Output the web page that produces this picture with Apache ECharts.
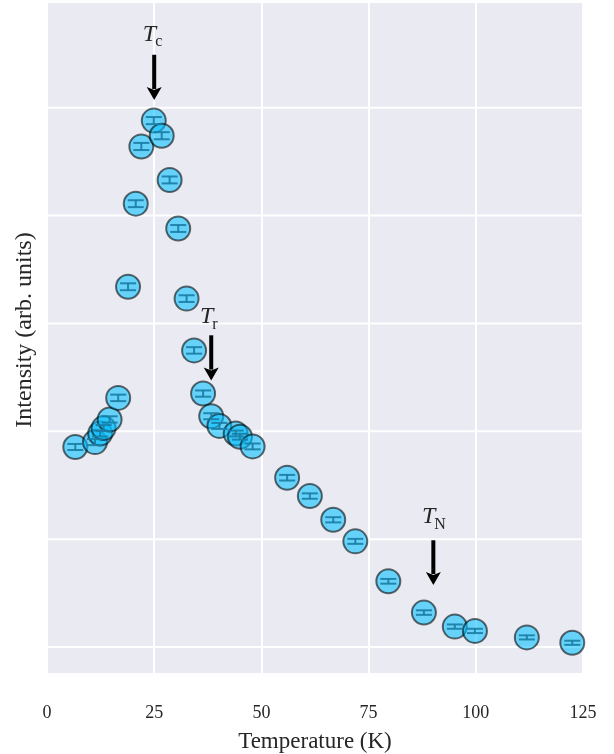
<!DOCTYPE html>
<html>
<head>
<meta charset="utf-8">
<script src="https://cdn.jsdelivr.net/npm/echarts@6/dist/echarts.min.js"></script>
<style>
  html, body { margin: 0; padding: 0; background: #ffffff; }
  #chart { width: 614px; height: 754px; }
</style>
</head>
<body>
<div id="chart"></div>
<script>
// Temperature scan of the peak intensity (arbitrary units)
const temperature = [6.6, 11.2, 12.4, 13.2, 14.6, 16.6, 18.9, 20.7, 22.0, 24.9, 26.75,
  28.6, 30.6, 32.55, 34.3, 36.4, 38.3, 40.2, 44.0, 45.0, 47.95, 56.0, 61.3, 66.75,
  71.9, 79.6, 87.9, 95.1, 99.8, 111.9, 122.5];
const intensity = [1.855, 1.90, 1.98, 2.03, 2.11, 2.31, 3.34, 4.11, 4.64, 4.88, 4.74,
  4.33, 3.88, 3.23, 2.75, 2.35, 2.14, 2.05, 1.98, 1.95, 1.86, 1.57, 1.40, 1.18,
  0.98, 0.61, 0.32, 0.19, 0.15, 0.09, 0.04];
const intensityErr = [0.028, 0.028, 0.028, 0.028, 0.029, 0.030, 0.032, 0.032, 0.033, 0.033, 0.033,
  0.032, 0.032, 0.031, 0.030, 0.029, 0.028, 0.028, 0.027, 0.027, 0.027, 0.026, 0.025, 0.024,
  0.023, 0.022, 0.021, 0.020, 0.020, 0.019, 0.019];

// Horizontal grid levels (arb. units) and x-axis ticks
const yGridLevels = [0, 1, 2, 3, 4, 5];
const xTicks = [0, 25, 50, 75, 100, 125];

// Transition markers: arrow x, arrow tip, arrow tail, label height, subscript
const markerNames = ['c', 'r', 'N'];
const markerX = [25, 38.3, 90.1];
const markerTipY = [5.07, 2.47, 0.575];
const markerTailY = [5.49, 2.89, 0.99];
const markerLabelY = [5.68, 3.06, 1.21];

const serif = "'Liberation Serif', 'DejaVu Serif', serif";
const textColor = '#262626';

const chart = echarts.init(document.getElementById('chart'), null, { renderer: 'canvas' });

const points = temperature.map((t, i) => [t, intensity[i], intensityErr[i]]);
const markers = markerX.map((x, i) => [x, markerTipY[i], markerTailY[i], markerLabelY[i], markerNames[i]]);

const option = {
  animation: false,
  backgroundColor: '#ffffff',
  grid: {
    left: 47, right: 31, top: 3, bottom: 81,
    outerBoundsMode: 'none',
    containLabel: false,
    show: true, backgroundColor: '#EAEAF2', borderWidth: 0
  },
  // vertical axis title
  graphic: [{
    type: 'text',
    x: 25, y: 330,
    rotation: Math.PI / 2,
    style: {
      text: 'Intensity (arb. units)',
      font: '24px ' + serif,
      fill: textColor,
      align: 'center',
      verticalAlign: 'middle'
    }
  }],
  xAxis: {
    type: 'value',
    min: xTicks[0], max: xTicks[xTicks.length - 1], interval: 25,
    name: 'Temperature (K)',
    nameLocation: 'middle', nameGap: 57,
    nameTextStyle: { fontFamily: serif, fontSize: 23, color: textColor },
    axisLine: { show: false }, axisTick: { show: false },
    axisLabel: { fontFamily: serif, fontSize: 18, color: textColor, margin: 31 },
    splitLine: { show: true, lineStyle: { color: '#ffffff', width: 2 } }
  },
  yAxis: {
    type: 'value',
    min: -0.24, max: 5.97,
    axisLine: { show: false }, axisTick: { show: false },
    axisLabel: { show: false },
    splitLine: { show: false }
  },
  series: [
    {
      // horizontal grid lines at integer intensity levels
      type: 'custom',
      data: yGridLevels.map(v => [v]),
      silent: true,
      renderItem: function (params, api) {
        const cs = params.coordSys;
        const y = api.coord([0, api.value(0)])[1];
        return {
          type: 'line',
          shape: { x1: cs.x, y1: y, x2: cs.x + cs.width, y2: y },
          style: { stroke: '#ffffff', lineWidth: 2 }
        };
      },
      encode: { y: 0 },
      z: 1
    },
    {
      type: 'scatter',
      data: points.map(p => [p[0], p[1]]),
      symbol: 'circle',
      symbolSize: 24,
      itemStyle: {
        color: 'rgba(0,191,255,0.70)',
        borderColor: 'rgba(0,0,0,0.72)',
        borderWidth: 2
      },
      z: 3
    },
    {
      // error bars with caps
      type: 'custom',
      data: points,
      renderItem: function (params, api) {
        const x = api.value(0), y = api.value(1), e = api.value(2);
        const top = api.coord([x, y + e]);
        const bot = api.coord([x, y - e]);
        const hw = 8;
        const style = { stroke: 'rgba(25,125,165,0.9)', lineWidth: 2 };
        return {
          type: 'group',
          children: [
            { type: 'line', shape: { x1: top[0], y1: top[1], x2: bot[0], y2: bot[1] }, style },
            { type: 'line', shape: { x1: top[0] - hw, y1: top[1], x2: top[0] + hw, y2: top[1] }, style },
            { type: 'line', shape: { x1: bot[0] - hw, y1: bot[1], x2: bot[0] + hw, y2: bot[1] }, style }
          ]
        };
      },
      z: 4
    },
    {
      // transition annotations: arrow plus T with subscript
      type: 'custom',
      data: markers,
      renderItem: function (params, api) {
        const x = api.value(0);
        const tip = api.coord([x, api.value(1)]);
        const tail = api.coord([x, api.value(2)]);
        const lab = api.coord([x, api.value(3)]);
        const sub = markers[params.dataIndex][4];
        const headLen = 13, headHalf = 7.5;
        return {
          type: 'group',
          children: [
            { type: 'line',
              shape: { x1: tail[0], y1: tail[1], x2: tip[0], y2: tip[1] - headLen + 2 },
              style: { stroke: '#000', lineWidth: 4 } },
            { type: 'polygon',
              shape: { points: [[tip[0], tip[1]], [tip[0] - headHalf, tip[1] - headLen],
                                [tip[0], tip[1] - headLen + 3], [tip[0] + headHalf, tip[1] - headLen]] },
              style: { fill: '#000' } },
            { type: 'text',
              style: { text: 'T', x: lab[0] + 2, y: lab[1], align: 'right', verticalAlign: 'middle',
                       font: 'italic 24px ' + serif, fill: textColor } },
            { type: 'text',
              style: { text: sub, x: lab[0] + 1, y: lab[1] + 8, align: 'left', verticalAlign: 'middle',
                       font: '16px ' + serif, fill: textColor } }
          ]
        };
      },
      z: 5
    }
  ]
};

chart.setOption(option);
</script>
</body>
</html>
